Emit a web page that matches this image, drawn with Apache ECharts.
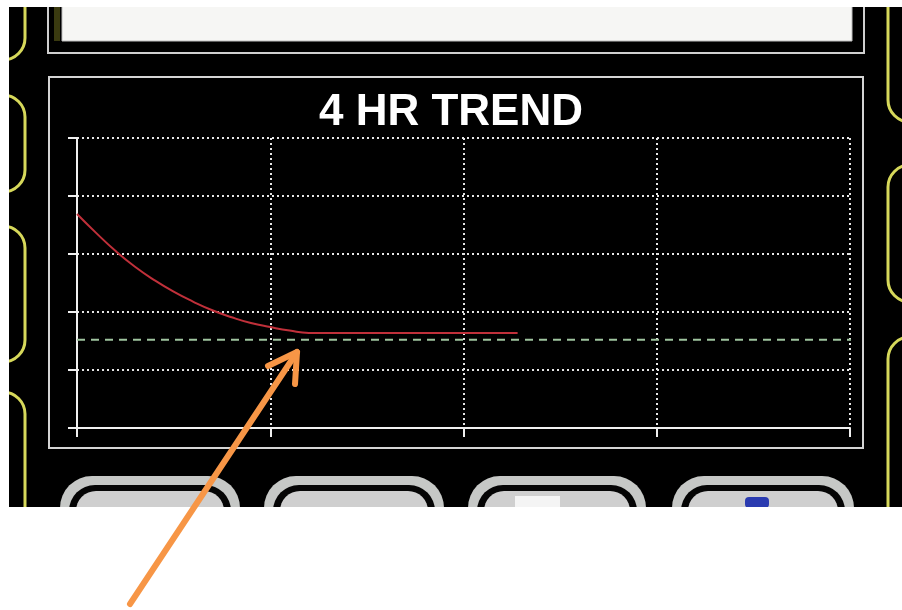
<!DOCTYPE html>
<html>
<head>
<meta charset="utf-8">
<script src="https://cdn.jsdelivr.net/npm/echarts@6/dist/echarts.min.js"></script>
<style>html,body{margin:0;padding:0;background:#fff}#c{width:902px;height:610px}</style>
</head>
<body>
<div id="c"></div>
<script>
// ---- data ----
const titleText = '4 HR TREND';
const trendHours = [0, 0.1, 0.2, 0.3, 0.4, 0.5, 0.6, 0.7, 0.8, 0.9, 1.0, 1.1, 1.2, 2.28];
const trendValues = [3.69, 3.36, 3.05, 2.78, 2.55, 2.35, 2.18, 2.03, 1.91, 1.81, 1.74, 1.68, 1.64, 1.64];
const targetHours = [0, 4.06];
const targetValues = [1.52, 1.52];
const xRange = [0, 4];
const yRange = [0, 5];

const trendData = trendHours.map((h, i) => [h, trendValues[i]]);
const targetData = targetHours.map((h, i) => [h, targetValues[i]]);

// ---- decorations (photo of device screen) ----
const yellow = '#d6d85a';
const deco = [];
deco.push({ type: 'rect', z: -20, shape: { x: 9, y: 7, width: 893, height: 500 }, style: { fill: '#000' } });
// side buttons (left)
[[-30, 60], [95, 192], [226, 362], [392, 560]].forEach(r => {
  deco.push({ type: 'rect', z: -15, shape: { x: -30, y: r[0], width: 55, height: r[1] - r[0], r: 22 }, style: { fill: '#000', stroke: yellow, lineWidth: 3 } });
});
// side buttons (right)
[[-30, 122], [165, 302], [337, 560]].forEach(r => {
  deco.push({ type: 'rect', z: -15, shape: { x: 888, y: r[0], width: 60, height: r[1] - r[0], r: 22 }, style: { fill: '#000', stroke: yellow, lineWidth: 3 } });
});
// top panel
deco.push({ type: 'rect', z: -14, shape: { x: 48, y: -10, width: 816, height: 63 }, style: { fill: '#000', stroke: '#cfcfcf', lineWidth: 2 } });
deco.push({ type: 'rect', z: -13, shape: { x: 54, y: -10, width: 6, height: 51 }, style: { fill: '#3a3a10' } });
deco.push({ type: 'rect', z: -13, shape: { x: 62, y: -10, width: 790, height: 51 }, style: { fill: '#f6f6f4', stroke: '#bdbdbd', lineWidth: 1 } });
// chart panel
deco.push({ type: 'rect', z: -14, shape: { x: 49, y: 77, width: 814, height: 371 }, style: { fill: '#000', stroke: '#d4d4d4', lineWidth: 2 } });
// bottom buttons
[[60, 240], [264, 444], [468, 646], [672, 854]].forEach((b, i) => {
  const w = b[1] - b[0];
  deco.push({ type: 'rect', z: -14, shape: { x: b[0], y: 476, width: w, height: 80, r: 32 }, style: { fill: '#c6c8c6' } });
  deco.push({ type: 'rect', z: -13, shape: { x: b[0] + 9, y: 485, width: w - 18, height: 80, r: 26 }, style: { fill: '#050505' } });
  deco.push({ type: 'rect', z: -12, shape: { x: b[0] + 16, y: 491, width: w - 32, height: 80, r: 20 }, style: { fill: '#cfcfcf' } });
});
deco.push({ type: 'rect', z: -11, shape: { x: 515, y: 496, width: 45, height: 12 }, style: { fill: '#f4f4f4' } });
deco.push({ type: 'rect', z: -11, shape: { x: 745, y: 497, width: 24, height: 11, r: 4 }, style: { fill: '#2a3bb0' } });
// white margins outside the photo
deco.push({ type: 'rect', z: -5, shape: { x: 0, y: 0, width: 9, height: 610 }, style: { fill: '#fff' } });
deco.push({ type: 'rect', z: -5, shape: { x: 0, y: 0, width: 902, height: 7 }, style: { fill: '#fff' } });
deco.push({ type: 'rect', z: -5, shape: { x: 0, y: 507, width: 902, height: 103 }, style: { fill: '#fff' } });
// orange annotation arrow
const arrowStyle = { stroke: '#f79646', lineWidth: 6, lineCap: 'round', lineJoin: 'round', fill: null };
deco.push({ type: 'polyline', z: 100, shape: { points: [[130, 604], [297, 352]] }, style: arrowStyle });
deco.push({ type: 'polyline', z: 100, shape: { points: [[268, 366], [297, 352], [295, 384]] }, style: arrowStyle });

const chart = echarts.init(document.getElementById('c'), null, { renderer: 'canvas' });
chart.setOption({
  backgroundColor: '#fff',
  animation: false,
  title: {
    text: titleText, left: 'center', top: 86,
    textStyle: { color: '#fff', fontSize: 44, fontWeight: 'bold', fontFamily: 'Liberation Sans, Arial, sans-serif' }
  },
  grid: { left: 77, right: 52, top: 138, bottom: 182 },
  xAxis: {
    type: 'value', min: xRange[0], max: xRange[1], interval: 1,
    axisLine: { lineStyle: { color: '#f0f0f0', width: 2 } },
    axisTick: { show: true, inside: false, length: 9, lineStyle: { color: '#f0f0f0', width: 2 } },
    axisLabel: { show: false },
    splitLine: { show: true, lineStyle: { color: '#e6e6e6', width: 2, type: [2, 3] } }
  },
  yAxis: {
    type: 'value', min: yRange[0], max: yRange[1], interval: 1,
    axisLine: { show: true, lineStyle: { color: '#f0f0f0', width: 2 } },
    axisTick: { show: true, inside: false, length: 9, lineStyle: { color: '#f0f0f0', width: 2 } },
    axisLabel: { show: false },
    splitLine: { show: true, lineStyle: { color: '#e6e6e6', width: 2, type: [2, 3] } }
  },
  series: [
    {
      type: 'line', name: 'Target', data: targetData, showSymbol: false, clip: false, z: 3,
      lineStyle: { color: '#9fc49f', width: 2, type: [8, 6] }
    },
    {
      type: 'line', name: 'Trend', data: trendData, showSymbol: false, smooth: 0.5, z: 4,
      lineStyle: { color: '#c0303a', width: 2 }
    }
  ],
  graphic: { elements: deco }
});
</script>
</body>
</html>
